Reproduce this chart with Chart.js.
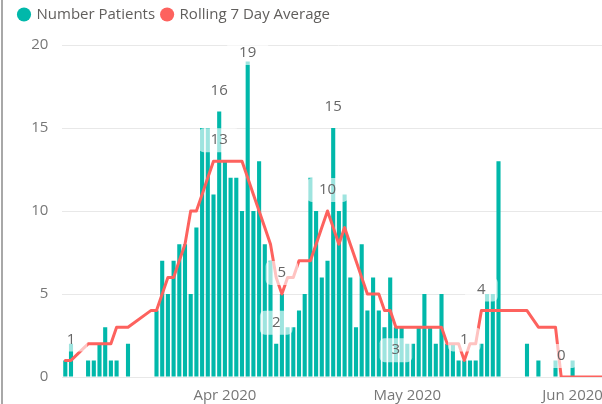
<!DOCTYPE html>
<html>
<head>
<meta charset="utf-8">
<script src="https://cdn.jsdelivr.net/npm/chart.js@4.4.1/dist/chart.umd.min.js"></script>
<style>
  html, body { margin: 0; padding: 0; overflow: hidden; background: #fff; }
  #wrap { position: relative; width: 602px; height: 404px; overflow: hidden; }
  #edge { position: absolute; left: 1px; top: 0; width: 2px; height: 404px; background: #a8a8a8; }
  #mycanvas { position: absolute; left: 0; top: 0; }
</style>
</head>
<body>
<div id="wrap">
  <canvas id="mycanvas" width="640" height="404"></canvas>
  <div id="edge"></div>
</div>
<script>
// daily patient counts
var patients = [
	1, 2, 0, 0, 1, 1, 2, 3, 1, 1,
	0, 2, 0, 0, 0, 0, 4, 7, 5, 7,
	8, 8, 5, 9, 15, 15, 11, 16, 13, 12,
	12, 10, 19, 10, 13, 8, 7, 2, 5, 3,
	3, 4, 5, 12, 10, 6, 7, 15, 10, 11,
	6, 3, 8, 4, 6, 4, 3, 6, 3, 3,
	2, 2, 3, 5, 3, 2, 5, 2, 2, 1,
	1, 1, 1, 2, 5, 5, 13, 0, 0, 0,
	0, 2, 0, 1, 0, 0, 1, 0, 0, 1,
	0, 0, 0, 0, 0, 1, 0
];

// rolling 7 day average (null where the line just runs straight across)
var rolling = [
	1, 1, null, null, 2, 2, 2, 2, 2, 3,
	3, 3, null, null, null, 4, 4, 5, 6, 6,
	7, 8, 10, 10, 11, 12, 13, 13, 13, 13,
	13, 13, 12, 11, 10, 9, 8, 6, 5, 6,
	6, 7, 7, 7, 8, 9, 10, 9, 8, 9,
	8, 7, 6, 5, 5, 5, 4, 4, 3, 3,
	3, 3, 3, 3, 3, 3, 3, 2, 2, 2,
	1, 2, 2, 4, 4, 4, 4, 4, 4, 4,
	4, 4, null, 3, null, null, 3, 0, 0, 0,
	0, 0, 0, 0, 0, 0, 0
];

var days = patients.map(function(v, i) { return i; });

var monthTicks = { 28: 'Apr 2020', 60: 'May 2020', 89: 'Jun 2020' };

// which points carry a data label: dataset 0 = bars, 1 = line
var shownLabels = [
	{ds: 1, i: 1}, {ds: 1, i: 27}, {ds: 0, i: 27}, {ds: 0, i: 32},
	{ds: 1, i: 38}, {ds: 0, i: 37}, {ds: 0, i: 47}, {ds: 1, i: 46},
	{ds: 1, i: 58, below: true}, {ds: 1, i: 70}, {ds: 1, i: 73},
	{ds: 1, i: 87}, {ds: 0, i: 95}
];

Chart.defaults.font.family = "'Open Sans', sans-serif";
Chart.defaults.font.size = 15;

var legendSpace = {
	id: 'legendSpace',
	beforeInit: function(chart) {
		var fitValue = chart.legend.fit;
		chart.legend.fit = function fit() {
			fitValue.bind(chart.legend)();
			this.height += 13;
		};
	}
};

var dataLabels = {
	id: 'dataLabels',
	afterDatasetsDraw: function(chart) {
		var ctx = chart.ctx;
		ctx.save();
		ctx.font = "15px 'Open Sans'";
		ctx.textAlign = 'center';
		ctx.textBaseline = 'middle';
		shownLabels.forEach(function(l) {
			var el = chart.getDatasetMeta(l.ds).data[l.i];
			var text = String(chart.data.datasets[l.ds].data[l.i]);
			var y = el.y + (l.below ? 23 : -21);
			y = Math.max(y, chart.chartArea.top + 8);
			var w = ctx.measureText(text).width + 24;
			ctx.fillStyle = 'rgba(255,255,255,0.62)';
			ctx.beginPath();
			ctx.roundRect(el.x - w / 2, y - 12, w, 24, 5);
			ctx.fill();
			ctx.fillStyle = '#666';
			ctx.fillText(text, el.x, y);
		});
		ctx.restore();
	}
};

var ctx = document.getElementById('mycanvas');

var chart = new Chart(ctx, {
	type: 'bar',
	data: {
		labels: days,
		datasets: [
			{
				label: 'Number Patients',
				data: patients,
				backgroundColor: '#01B8AA',
				borderWidth: 0,
				barPercentage: 0.72,
				categoryPercentage: 1.0,
				order: 1
			},
			{
				label: 'Rolling 7 Day Average',
				type: 'line',
				data: rolling,
				borderColor: '#FD625E',
				backgroundColor: '#FD625E',
				borderWidth: 3,
				pointRadius: 0,
				tension: 0,
				spanGaps: true,
				borderCapStyle: 'round',
				borderJoinStyle: 'round',
				order: 0
			}
		]
	},
	options: {
		responsive: false,
		animation: false,
		devicePixelRatio: 1,
		layout: { padding: { left: 12, right: 24.65, top: 0, bottom: 0 } },
		plugins: {
			tooltip: { enabled: false },
			legend: {
				position: 'top',
				align: 'start',
				labels: {
					usePointStyle: true,
					pointStyle: 'circle',
					boxWidth: 10,
					boxHeight: 10,
					padding: 7,
					color: '#605E5C',
					font: { size: 15 },
					sort: function(a, b) { return a.datasetIndex - b.datasetIndex; },
					generateLabels: function(chart) {
						var items = Chart.defaults.plugins.legend.labels.generateLabels(chart);
						items.forEach(function(it) { it.lineWidth = 0; });
						return items;
					}
				}
			}
		},
		scales: {
			x: {
				grid: { display: false },
				border: { display: false },
				ticks: {
					autoSkip: false,
					maxRotation: 0,
					minRotation: 0,
					padding: 2,
					color: '#777',
					callback: function(val, index) { return monthTicks[index] || ''; }
				},
				afterFit: function(scale) { scale.height = 27; }
			},
			y: {
				min: 0,
				max: 20,
				grid: { color: '#e8e8e8', drawTicks: false },
				border: { display: false },
				ticks: { stepSize: 5, padding: 14, color: '#777' },
				afterFit: function(scale) { scale.width = 50.45; }
			}
		}
	},
	plugins: [legendSpace, dataLabels]
});
</script>
</body>
</html>
